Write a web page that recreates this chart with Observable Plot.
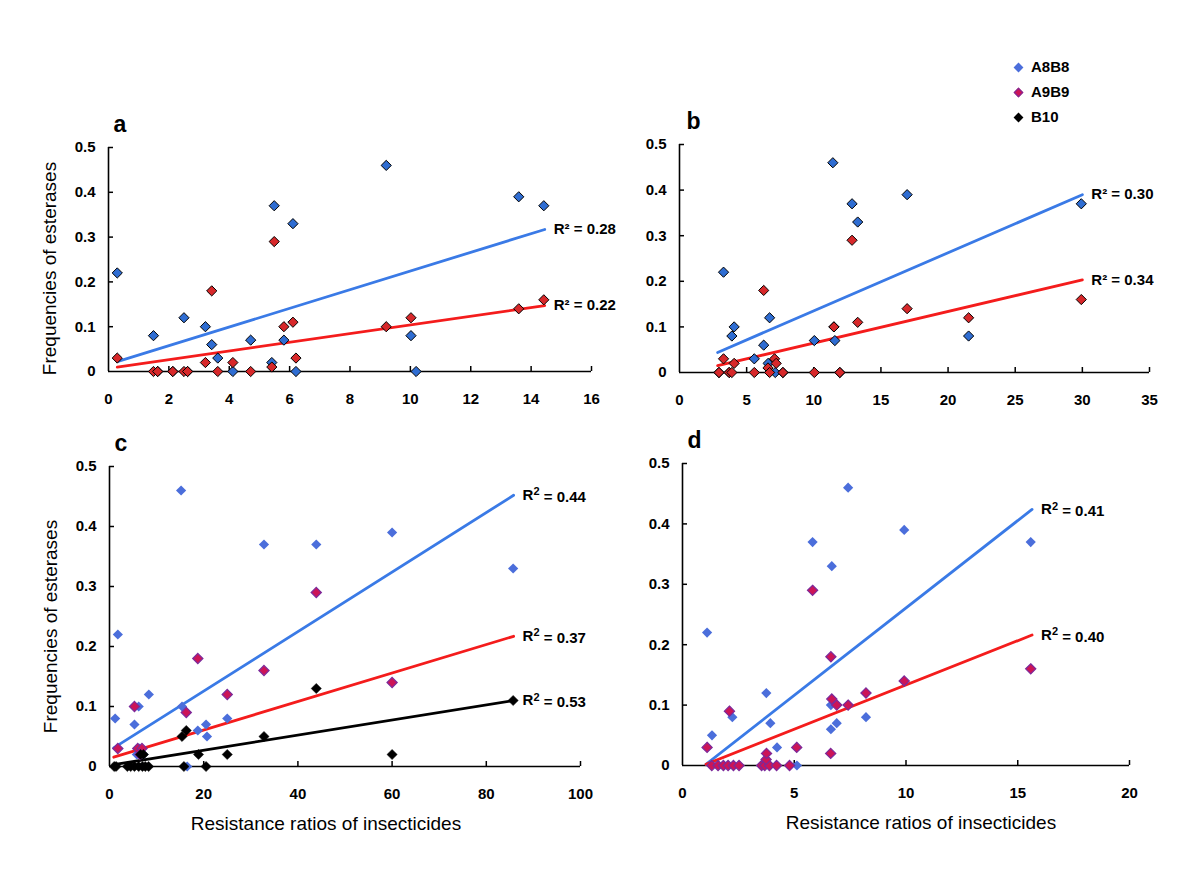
<!DOCTYPE html>
<html>
<head>
<meta charset="utf-8">
<script src="https://cdn.jsdelivr.net/npm/d3@7"></script>
<script src="https://cdn.jsdelivr.net/npm/@observablehq/plot@0.6"></script>
<style>
  html, body { margin: 0; padding: 0; background: #fff; }
  #wrap { position: relative; width: 1200px; height: 874px; background: #fff; overflow: hidden; font-family: 'Liberation Sans', Arial, Helvetica, sans-serif; }
  #wrap svg { position: absolute; overflow: visible; }
  .leg { position: absolute; left: 1012px; font-weight: bold; font-size: 15px; color: #000; line-height: 18px; height: 18px; }
  .leg i { display: inline-block; width: 7px; height: 7px; transform: rotate(45deg); margin: 0 9px 1px 3px; vertical-align: middle; box-sizing: border-box; }
</style>
</head>
<body>
<div id="wrap"></div>
<script>
// ---------------- data ----------------
const yTicks = [0, 0.1, 0.2, 0.3, 0.4, 0.5];
const seriesNames = ["A8B8", "A9B9", "B10"];

// panel a
const aTicksX = [0, 2, 4, 6, 8, 10, 12, 14, 16];
const aBlueX = [0.29, 1.49, 1.63, 2.13, 2.62, 2.5, 3.21, 3.42, 3.62, 4.12, 4.71, 5.41, 5.49, 5.81, 6.11, 6.21, 9.2, 10.02, 10.19, 13.59, 14.42];
const aBlueY = [0.22, 0.08, 0, 0, 0, 0.12, 0.10, 0.06, 0.03, 0, 0.07, 0.02, 0.37, 0.07, 0.33, 0, 0.46, 0.08, 0, 0.39, 0.37];
const aRedX = [0.29, 1.49, 1.63, 2.13, 2.5, 2.62, 3.21, 3.42, 3.62, 4.12, 4.71, 5.41, 5.49, 5.81, 6.11, 6.21, 9.2, 10.02, 13.59, 14.42];
const aRedY = [0.03, 0, 0, 0, 0, 0, 0.02, 0.18, 0, 0.02, 0, 0.01, 0.29, 0.10, 0.11, 0.03, 0.10, 0.12, 0.14, 0.16];
const aTrendX = [0.29, 14.45];
const aTrendBlue = [0.022, 0.317];
const aTrendRed = [0.010, 0.147];
const aR2 = ["R² = 0.28", "R² = 0.22"];

// panel b
const bTicksX = [0, 5, 10, 15, 20, 25, 30, 35];
const bBlueX = [2.94, 3.7, 7.7, 11.94, 11.5, 3.28, 3.9, 4.07, 5.57, 6.27, 6.71, 6.6, 7.13, 10.04, 11.42, 11.57, 12.85, 13.27, 16.95, 21.53, 29.92];
const bBlueY = [0, 0, 0, 0, 0.10, 0.22, 0.08, 0.10, 0.03, 0.06, 0.12, 0.02, 0, 0.07, 0.46, 0.07, 0.37, 0.33, 0.39, 0.08, 0.37];
const bRedX = [2.94, 3.28, 3.7, 3.9, 4.07, 5.57, 6.27, 6.59, 6.71, 7.08, 7.2, 7.7, 10.04, 11.5, 11.94, 12.85, 13.27, 16.95, 21.53, 29.92];
const bRedY = [0, 0.03, 0, 0, 0.02, 0, 0.18, 0.01, 0, 0.03, 0.02, 0, 0, 0.10, 0, 0.29, 0.11, 0.14, 0.12, 0.16];
const bTrendX = [2.84, 30.0];
const bTrendBlue = [0.044, 0.390];
const bTrendRed = [0.015, 0.203];
const bR2 = ["R² = 0.30", "R² = 0.34"];

// panel c
const cTicksX = [0, 20, 40, 60, 80, 100];
const cBlueX = [1.2, 1.77, 5.3, 6.2, 8.35, 5.8, 6.3, 7.2, 15.2, 15.4, 16.5, 18.75, 20.5, 20.7, 25.0, 32.8, 43.9, 60.0, 85.7];
const cBlueY = [0.08, 0.22, 0.07, 0.10, 0.12, 0.02, 0.03, 0.02, 0.46, 0.10, 0, 0.06, 0.07, 0.05, 0.08, 0.37, 0.37, 0.39, 0.33];
const cRedX = [1.77, 5.3, 6.0, 6.9, 6.5, 16.3, 18.75, 25.0, 32.8, 43.9, 60.0];
const cRedY = [0.03, 0.10, 0.03, 0.03, 0.02, 0.09, 0.18, 0.12, 0.16, 0.29, 0.14];
const cBlackX = [1.0, 1.4, 3.8, 4.5, 5.3, 6.2, 7.0, 7.6, 8.3, 15.8, 20.5, 6.6, 7.2, 15.4, 16.3, 18.9, 25.0, 32.8, 43.9, 60.0, 85.7];
const cBlackY = [0, 0, 0, 0, 0, 0, 0, 0, 0, 0, 0, 0.02, 0.02, 0.05, 0.06, 0.02, 0.02, 0.05, 0.13, 0.02, 0.11];
const cTrendX = [0.9, 85.8];
const cTrendBlue = [0.031, 0.452];
const cTrendRed = [0.0155, 0.217];
const cTrendBlack = [0.003, 0.110];
const cR2 = ["R² = 0.44", "R² = 0.37", "R² = 0.53"];

// panel d
const dTicksX = [0, 5, 10, 15, 20];
const dBlueX = [1.1, 1.32, 2.23, 3.75, 3.93, 4.23, 5.12, 5.82, 6.64, 6.64, 6.68, 6.9, 7.41, 8.21, 9.92, 15.58];
const dBlueY = [0.22, 0.05, 0.08, 0.12, 0.07, 0.03, 0, 0.37, 0.10, 0.06, 0.33, 0.07, 0.46, 0.08, 0.39, 0.37];
const dRedX = [1.1, 1.31, 1.59, 1.83, 2.04, 2.28, 2.53, 2.1, 3.54, 3.68, 3.89, 4.21, 4.79, 3.74, 3.76, 5.11, 5.82, 6.64, 6.68, 6.9, 6.63, 7.41, 8.21, 9.92, 15.58];
const dRedY = [0.03, 0, 0, 0, 0, 0, 0, 0.09, 0, 0, 0, 0, 0, 0.01, 0.02, 0.03, 0.29, 0.18, 0.11, 0.10, 0.02, 0.10, 0.12, 0.14, 0.16];
const dTrendX = [1.05, 15.64];
const dTrendBlue = [0.002, 0.424];
const dTrendRed = [0.002, 0.216];
const dR2 = ["R² = 0.41", "R² = 0.40"];

// ---------------- helpers ----------------
const FONT = "'Liberation Sans', Arial, Helvetica, sans-serif";
const pts = (xs, ys) => xs.map((x, i) => ({x, y: ys[i]}));
const trend = (xs, ys) => xs.map((x, i) => ({x, y: ys[i]}));

function panel(cfg) {
  const fw = cfg.width - cfg.ml - cfg.mr;
  const fh = cfg.height - cfg.mt - cfg.mb;
  const marks = [
    Plot.ruleY([0], {stroke: "#000", strokeWidth: 1.6}),
    Plot.ruleX([0], {stroke: "#000", strokeWidth: 1.6}),
    Plot.tickX(cfg.xTicks.slice(1), {x: d => d, stroke: "#000", strokeWidth: 1.5, insetTop: fh - 5}),
    Plot.tickY(yTicks.slice(1), {y: d => d, stroke: "#000", strokeWidth: 1.5, insetRight: fw - 5}),
    Plot.axisX({ticks: cfg.xTicks, tickSize: 0, tickPadding: 22, fontSize: 15, fontWeight: "bold", fill: "#000", tickFormat: d => String(d), label: null}),
    Plot.axisY({ticks: yTicks, tickSize: 0, tickPadding: 13, fontSize: 15, fontWeight: "bold", fill: "#000", tickFormat: d => String(d), label: null}),
    Plot.text([cfg.letter], {frameAnchor: "top-left", dx: cfg.letterDx, dy: -16, textAnchor: "start", lineAnchor: "bottom",
      fontSize: 23, fontWeight: "bold", fontFamily: "'Liberation Sans Narrow', 'Arial Narrow', 'Liberation Sans', sans-serif", fill: "#000"})
  ];
  if (cfg.yTitle) marks.push(Plot.text([cfg.yTitle], {frameAnchor: "left", dx: -59, dy: cfg.yTitleDy, rotate: -90, textAnchor: "middle", lineAnchor: "middle", fontSize: 19, fill: "#000"}));
  if (cfg.xTitle) marks.push(Plot.text([cfg.xTitle], {frameAnchor: "bottom", dx: cfg.xTitleDx, dy: 57, textAnchor: "middle", lineAnchor: "middle", fontSize: 19, fill: "#000"}));
  for (const s of cfg.series) marks.push(Plot.line(s.trend, {x: "x", y: "y", stroke: s.line, strokeWidth: 2.8}));
  for (const s of cfg.series) marks.push(Plot.dot(s.data, {x: "x", y: "y", symbol: "diamond2", r: 4.6, fill: s.fill, stroke: s.stroke, strokeWidth: s.strokeWidth}));
  for (const s of cfg.series) {
    const end = s.trend[s.trend.length - 1];
    marks.push(Plot.text([{x: end.x, y: end.y, t: s.label}], {x: "x", y: "y", text: "t", dx: 9, textAnchor: "start", lineAnchor: "middle", fontSize: 15, fontWeight: "bold", fill: "#000"}));
  }
  const svg = Plot.plot({
    width: cfg.width, height: cfg.height,
    marginLeft: cfg.ml, marginRight: cfg.mr, marginTop: cfg.mt, marginBottom: cfg.mb,
    x: {domain: [0, cfg.xTicks[cfg.xTicks.length - 1]], label: null},
    y: {domain: [0, 0.5], label: null},
    style: {fontFamily: FONT, background: "transparent", overflow: "visible"},
    marks
  });
  svg.style.left = cfg.left + "px";
  svg.style.top = cfg.top + "px";
  if (cfg.superscript) {
    svg.querySelectorAll("text").forEach(t => {
      if (t.textContent.startsWith("R²")) {
        const rest = t.textContent.slice(2);
        while (t.firstChild) t.removeChild(t.firstChild);
        const ns = "http://www.w3.org/2000/svg";
        const a = document.createElementNS(ns, "tspan"); a.textContent = "R";
        const b = document.createElementNS(ns, "tspan"); b.textContent = "2"; b.setAttribute("dy", "-0.42em"); b.setAttribute("font-size", "11");
        const c = document.createElementNS(ns, "tspan"); c.textContent = rest; c.setAttribute("dy", "0.42em");
        t.append(a, b, c);
      }
    });
  }
  return svg;
}

const BLUE_A = "#2f6dd2", RED_A = "#d7282a";
const BLUE_C = "#4b6edb", RED_C = "#cc1457", PURPLE = "#7b2a9b";
const LINE_BLUE = "#3a7ae6", LINE_RED = "#f41c1c";

const wrap = document.getElementById("wrap");

wrap.append(panel({
  left: 0, top: 0, width: 600, height: 437, ml: 108, mr: 9, mt: 147, mb: 66,
  xTicks: aTicksX, letter: "a", letterDx: 5, yTitle: "Frequencies of esterases", yTitleDy: 9,
  series: [
    {data: pts(aBlueX, aBlueY), trend: trend(aTrendX, aTrendBlue), fill: BLUE_A, stroke: "#000", strokeWidth: 1, line: LINE_BLUE, label: aR2[0]},
    {data: pts(aRedX, aRedY), trend: trend(aTrendX, aTrendRed), fill: RED_A, stroke: "#000", strokeWidth: 1, line: LINE_RED, label: aR2[1]}
  ]
}));

wrap.append(panel({
  left: 600, top: 0, width: 600, height: 437, ml: 79, mr: 51, mt: 144, mb: 65,
  xTicks: bTicksX, letter: "b", letterDx: 7,
  series: [
    {data: pts(bBlueX, bBlueY), trend: trend(bTrendX, bTrendBlue), fill: BLUE_A, stroke: "#000", strokeWidth: 1, line: LINE_BLUE, label: bR2[0]},
    {data: pts(bRedX, bRedY), trend: trend(bTrendX, bTrendRed), fill: RED_A, stroke: "#000", strokeWidth: 1, line: LINE_RED, label: bR2[1]}
  ]
}));

wrap.append(panel({
  left: 0, top: 437, width: 600, height: 437, ml: 109, mr: 20, mt: 29, mb: 108,
  xTicks: cTicksX, letter: "c", letterDx: 5, yTitle: "Frequencies of esterases", yTitleDy: 10,
  xTitle: "Resistance ratios of insecticides", xTitleDx: -19, superscript: true,
  series: [
    {data: pts(cBlueX, cBlueY), trend: trend(cTrendX, cTrendBlue), fill: BLUE_C, stroke: "none", strokeWidth: 0, line: LINE_BLUE, label: cR2[0]},
    {data: pts(cRedX, cRedY), trend: trend(cTrendX, cTrendRed), fill: RED_C, stroke: PURPLE, strokeWidth: 1.2, line: LINE_RED, label: cR2[1]},
    {data: pts(cBlackX, cBlackY), trend: trend(cTrendX, cTrendBlack), fill: "#000", stroke: "#000", strokeWidth: 0.5, line: "#000", label: cR2[2]}
  ]
}));

wrap.append(panel({
  left: 600, top: 437, width: 600, height: 437, ml: 82, mr: 71, mt: 26, mb: 109,
  xTicks: dTicksX, letter: "d", letterDx: 5,
  xTitle: "Resistance ratios of insecticides", xTitleDx: 15, superscript: true,
  series: [
    {data: pts(dBlueX, dBlueY), trend: trend(dTrendX, dTrendBlue), fill: BLUE_C, stroke: "none", strokeWidth: 0, line: LINE_BLUE, label: dR2[0]},
    {data: pts(dRedX, dRedY), trend: trend(dTrendX, dTrendRed), fill: RED_C, stroke: PURPLE, strokeWidth: 1.2, line: LINE_RED, label: dR2[1]}
  ]
}));

// legend
const legColors = [
  {fill: BLUE_C, border: "none"},
  {fill: RED_C, border: "1px solid " + PURPLE},
  {fill: "#000", border: "none"}
];
seriesNames.forEach((name, i) => {
  const div = document.createElement("div");
  div.className = "leg";
  div.style.top = (58 + i * 25) + "px";
  const sw = document.createElement("i");
  sw.style.background = legColors[i].fill;
  sw.style.border = legColors[i].border;
  div.append(sw, document.createTextNode(name));
  wrap.append(div);
});
</script>
</body>
</html>
